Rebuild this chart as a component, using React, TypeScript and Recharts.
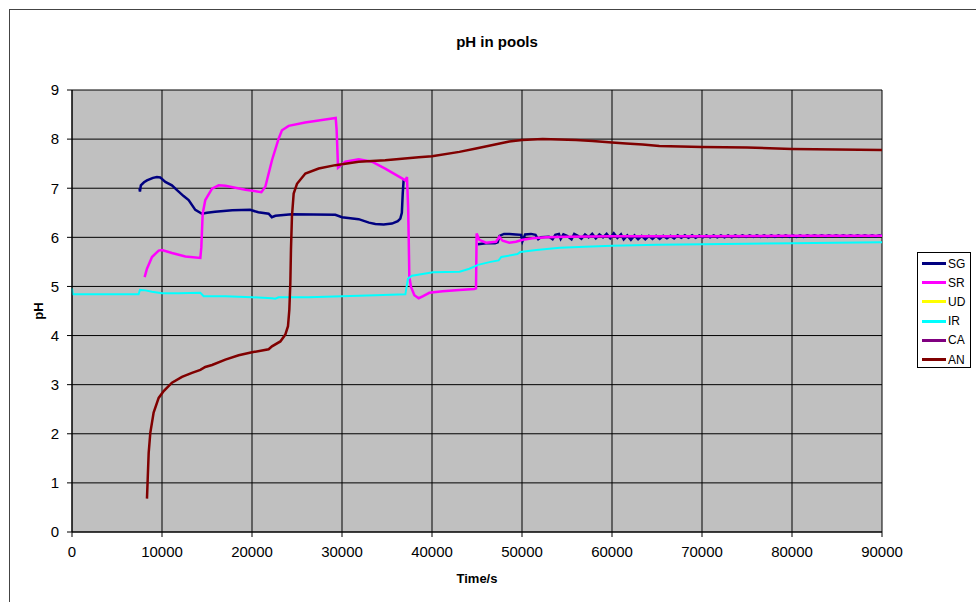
import React from "react";
import { LineChart, Line, XAxis, YAxis, CartesianGrid, Legend, Label } from "recharts";

// [time (s), pH] pairs
const sgPoints: [number, number | null][] = [
  [7500, 7.0], [7550, 6.93], [7650, 7.06], [8000, 7.12], [8330, 7.16], [9000, 7.21], [9440, 7.23], [9800, 7.22],
  [10370, 7.13], [11100, 7.06], [11670, 6.96], [12400, 6.84], [12960, 6.76], [13700, 6.56], [14440, 6.48],
  [15000, 6.5], [15900, 6.52], [17800, 6.55], [19800, 6.56], [20700, 6.51], [21850, 6.48], [22200, 6.41],
  [22600, 6.44], [24400, 6.47], [29260, 6.46], [30000, 6.41], [31850, 6.37], [33000, 6.3], [33700, 6.27],
  [34630, 6.26], [35550, 6.28], [36200, 6.33], [36480, 6.38], [36650, 6.5], [36750, 6.9], [36850, 7.17],
  [41000, null],
  [45100, 5.86], [46000, 5.88], [47000, 5.88], [47300, 5.9], [47500, 6.03], [48000, 6.07], [48600, 6.07],
  [49300, 6.06], [49900, 6.05], [50050, 5.92], [50350, 6.06], [51000, 6.07], [51500, 6.05], [51800, 5.96],
  [52100, 6.0], [53000, 6.01], [53400, 5.96], [53700, 6.05], [54100, 6.07], [54300, 5.97], [54600, 6.06],
  [55000, 6.03], [55500, 5.96], [55800, 6.07], [56200, 6.03], [56600, 5.97], [57000, 6.06], [57400, 6.0],
  [57800, 6.07], [58200, 5.98], [58600, 6.06], [59000, 6.0], [59400, 6.07], [59800, 5.98], [60200, 6.08],
  [60600, 5.99], [61000, 6.06], [61300, 5.96], [61700, 6.04], [62100, 5.95], [62500, 6.04], [62900, 5.96],
  [63300, 6.03], [63700, 5.96], [64100, 6.03], [64500, 5.97], [64900, 6.03], [65300, 5.97], [65700, 6.03],
  [66100, 5.98], [66500, 6.03], [66900, 5.98], [67300, 6.04], [67700, 5.99], [68100, 6.04], [68500, 5.99],
  [68900, 6.04], [69300, 5.99], [69700, 6.04], [70100, 6.0], [70500, 6.04], [70900, 6.0], [71300, 6.04],
  [71700, 6.0], [72100, 6.04], [72500, 6.0], [72900, 6.04], [73300, 6.0], [73700, 6.04], [74100, 6.01],
  [74500, 6.04], [74900, 6.01], [75300, 6.04], [75700, 6.01], [76100, 6.04], [76500, 6.01], [76900, 6.04],
  [77300, 6.01], [77700, 6.04], [78100, 6.01], [78500, 6.04], [78900, 6.01], [79300, 6.04], [79700, 6.01],
  [80100, 6.04], [80500, 6.01], [80900, 6.04], [81300, 6.01], [81700, 6.04], [82100, 6.02], [82500, 6.04],
  [82900, 6.02], [83300, 6.04], [83700, 6.02], [84100, 6.04], [84500, 6.02], [84900, 6.04], [85300, 6.02],
  [85700, 6.04], [86100, 6.02], [86500, 6.04], [86900, 6.02], [87300, 6.04], [87700, 6.02], [88100, 6.04],
  [88500, 6.02], [88900, 6.04], [89300, 6.02], [89700, 6.04], [90000, 6.03],
];

const srPoints: [number, number][] = [
  [8070, 5.19], [8330, 5.36], [8890, 5.6], [9630, 5.73], [10000, 5.74], [11110, 5.68], [12600, 5.61],
  [14260, 5.58], [14370, 5.8], [14520, 6.48], [14810, 6.76], [15560, 6.99], [16300, 7.06], [17040, 7.05],
  [19260, 6.97], [21040, 6.92], [21480, 7.03], [22220, 7.57], [22960, 8.01], [23330, 8.18], [24070, 8.27],
  [25900, 8.34], [28150, 8.4], [29300, 8.43], [29400, 8.2], [29560, 7.42], [30370, 7.54], [31850, 7.59],
  [33330, 7.54], [34800, 7.4], [36670, 7.2], [37040, 7.16], [37220, 7.23], [37350, 6.6], [37410, 6.0],
  [37480, 5.2], [37670, 4.99], [38040, 4.82], [38520, 4.76], [38960, 4.8], [39700, 4.87], [41190, 4.9],
  [43040, 4.93], [44700, 4.95], [44890, 4.96], [44960, 6.08], [45180, 5.98], [45260, 5.95], [46000, 5.89],
  [47110, 5.91], [47480, 6.01], [47850, 5.93], [48590, 5.89], [49330, 5.91], [50070, 5.95], [51190, 5.98],
  [52670, 6.0], [55000, 6.01], [60000, 6.02], [70000, 6.02], [80000, 6.03], [90000, 6.03],
];

const irPoints: [number, number][] = [
  [0, 4.96], [100, 4.84], [7400, 4.84], [7550, 4.93], [8150, 4.92], [8890, 4.89], [10000, 4.86],
  [11850, 4.86], [14260, 4.87], [14630, 4.8], [17040, 4.8], [20000, 4.78], [22220, 4.76], [22590, 4.75],
  [22960, 4.78], [26300, 4.78], [30000, 4.8], [33700, 4.82], [37040, 4.84], [37330, 5.16], [37780, 5.22],
  [40110, 5.29], [43070, 5.3], [44150, 5.36], [45110, 5.44], [46500, 5.5], [47400, 5.53], [47700, 5.6],
  [49500, 5.66], [49800, 5.7], [51600, 5.74], [54200, 5.79], [57000, 5.81], [60000, 5.83], [65000, 5.85],
  [70000, 5.86], [75000, 5.87], [80000, 5.88], [85000, 5.89], [90000, 5.9],
];

const anPoints: [number, number][] = [
  [8330, 0.68], [8410, 1.07], [8520, 1.61], [8700, 2.02], [9070, 2.43], [9630, 2.73], [10190, 2.87],
  [11110, 3.04], [12220, 3.16], [13330, 3.24], [14260, 3.3], [14810, 3.36], [15560, 3.4], [17040, 3.51],
  [18520, 3.6], [20000, 3.66], [21850, 3.72], [22220, 3.78], [23150, 3.88], [23700, 4.02], [24000, 4.19],
  [24150, 4.53], [24260, 5.07], [24330, 5.75], [24440, 6.43], [24630, 6.89], [25000, 7.09], [25930, 7.3],
  [27410, 7.4], [29260, 7.47], [31850, 7.54], [34800, 7.57], [38520, 7.63], [40000, 7.65], [43040, 7.74],
  [44890, 7.81], [46740, 7.88], [48590, 7.95], [50000, 7.98], [52300, 8.0], [54150, 7.99], [56000, 7.98],
  [57850, 7.96], [60000, 7.93], [61560, 7.91], [63410, 7.89], [65260, 7.86], [70000, 7.84], [75000, 7.83],
  [80000, 7.8], [85000, 7.79], [90000, 7.78],
];

const xTicks = [0, 10000, 20000, 30000, 40000, 50000, 60000, 70000, 80000, 90000];
const yTicks = [0, 1, 2, 3, 4, 5, 6, 7, 8, 9];

const toRows = (pts: [number, number | null][]) => pts.map(([t, ph]) => ({ t, ph }));

const series = [
  { name: "SG", color: "#000080", width: 2.5, data: toRows(sgPoints) },
  { name: "SR", color: "#ff00ff", width: 2.5, data: toRows(srPoints) },
  { name: "UD", color: "#ffff00", width: 2, data: [] as { t: number; ph: number | null }[] },
  { name: "IR", color: "#00ffff", width: 2, data: toRows(irPoints) },
  { name: "CA", color: "#800080", width: 2, data: [] as { t: number; ph: number | null }[] },
  { name: "AN", color: "#800000", width: 2.5, data: toRows(anPoints) },
];

const FONT = "'Liberation Sans', Arial, sans-serif";

// legend keeps series order (Recharts sorts payload by name otherwise)
function BoxLegend() {
  return (
    <div style={{ border: "1px solid #000", background: "#fff", width: 54, height: 116, boxSizing: "border-box", paddingTop: 1 }}>
      {series.map((s) => (
        <div key={s.name} style={{ display: "flex", alignItems: "center", height: 19.2 }}>
          <div style={{ width: 24, height: 3, background: s.color, marginLeft: 4, marginRight: 2 }} />
          <span style={{ fontSize: 12, color: "#000", fontFamily: FONT }}>{s.name}</span>
        </div>
      ))}
    </div>
  );
}

export default function App() {
  return (
    <div style={{ position: "absolute", left: 0, top: 0, width: 976, height: 602, overflow: "hidden", background: "#fff", fontFamily: FONT }}>
      <div style={{ position: "absolute", left: 9, top: 9, width: 1200, height: 900, borderLeft: "1.5px solid #444", borderTop: "1.5px solid #444" }} />
      <div style={{ position: "absolute", left: 0, top: 33, width: 994, textAlign: "center", fontSize: 15, fontWeight: "bold", color: "#000" }}>
        pH in pools
      </div>
      <div style={{ position: "absolute", left: 0, top: 0 }}>
        <LineChart width={976} height={602} margin={{ top: 90, right: 94, bottom: 20, left: 12 }} style={{ fontFamily: FONT }}>
          <CartesianGrid stroke="#000" fill="#c0c0c0" fillOpacity={1} />
          <XAxis
            dataKey="t"
            type="number"
            domain={[0, 90000]}
            ticks={xTicks}
            interval={0}
            height={50}
            tickSize={5}
            tickMargin={9}
            axisLine={{ stroke: "#000" }}
            tickLine={{ stroke: "#000" }}
            tick={{ fontSize: 15, fill: "#000" }}
          >
            <Label value="Time/s" position="bottom" offset={-8} style={{ fontSize: 13, fontWeight: "bold", fill: "#000" }} />
          </XAxis>
          <YAxis
            type="number"
            domain={[0, 9]}
            ticks={yTicks}
            interval={0}
            width={60}
            tickSize={5}
            tickMargin={8}
            axisLine={{ stroke: "#000" }}
            tickLine={{ stroke: "#000" }}
            tick={{ fontSize: 15, fill: "#000" }}
          >
            <Label value="pH" angle={-90} position="insideLeft" offset={26} style={{ fontSize: 13, fontWeight: "bold", fill: "#000", textAnchor: "middle" }} />
          </YAxis>
          <Legend
            layout="horizontal"
            verticalAlign="middle"
            align="center"
            content={<BoxLegend />}
            wrapperStyle={{ left: 917, top: 252, width: 54, height: 116 }}
          />
          {series.map((s) => (
            <Line
              key={s.name}
              name={s.name}
              data={s.data}
              dataKey="ph"
              type="linear"
              stroke={s.color}
              strokeWidth={s.width}
              dot={false}
              activeDot={false}
              connectNulls={false}
              isAnimationActive={false}
            />
          ))}
        </LineChart>
      </div>
    </div>
  );
}
